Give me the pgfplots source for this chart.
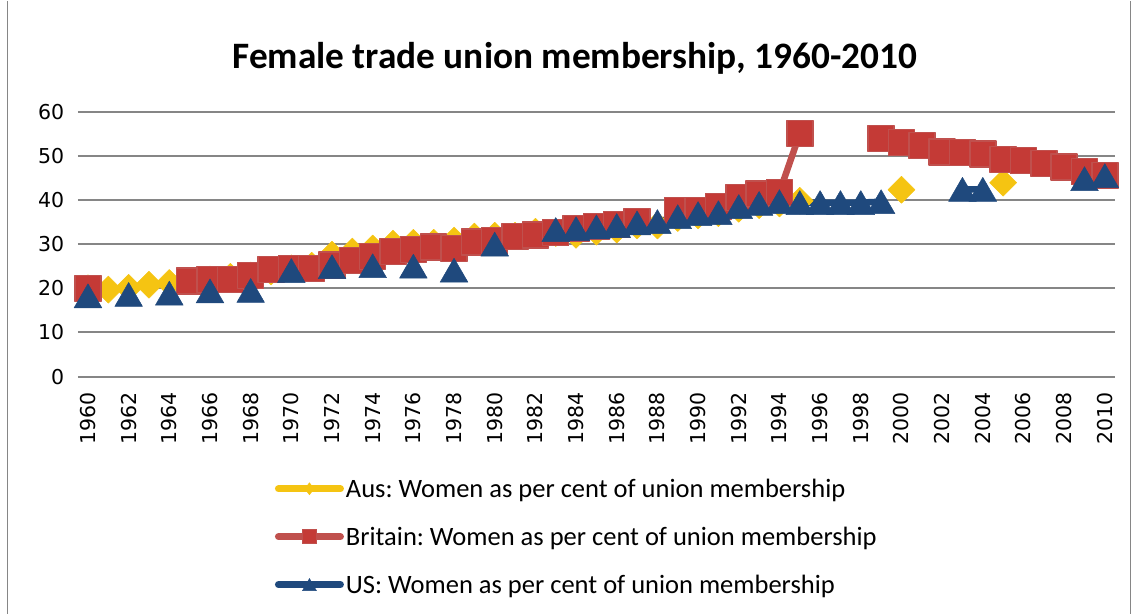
\documentclass[border=0pt]{standalone}
\usepackage{fontspec}
\setmainfont{Carlito}
\newfontfamily\tickfont{DejaVu Sans}
\usepackage{pgfplots}
\pgfplotsset{compat=1.18}
\usepackage{pgfplotstable}
\frenchspacing

\definecolor{ausY}{RGB}{245,196,18}
\definecolor{brR}{RGB}{192,80,77}
\definecolor{brF}{RGB}{196,58,54}
\definecolor{usB}{RGB}{31,73,125}
\definecolor{gridG}{RGB}{134,134,134}

\pgfplotstableread{
year val
1960 20.0
1961 19.7
1962 20.1
1963 20.8
1964 21.2
1965 21.7
1966 22.0
1967 22.6
1968 22.9
1969 23.8
1970 24.5
1971 25.1
1972 27.6
1973 28.3
1974 29.0
1975 30.1
1976 30.3
1977 30.3
1978 30.8
1979 31.7
1980 31.9
1981 31.9
1982 32.8
1983 32.5
1984 32.1
1985 32.8
1986 33.3
1987 34.2
1988 34.2
1989 35.9
1990 36.5
1991 37.0
1992 38.0
1993 38.8
1994 39.2
1995 39.8
1996 nan
2000 42.3
2001 nan
2005 43.9
}\ausdata

\pgfplotstableread{
year val
1960 19.9
1961 nan
1965 21.7
1966 22.0
1967 22.0
1968 22.9
1969 24.3
1970 24.5
1971 24.5
1972 25.3
1973 26.3
1974 27.2
1975 28.3
1976 28.8
1977 29.4
1978 29.0
1979 30.5
1980 30.8
1981 31.7
1982 32.1
1983 32.6
1984 33.5
1985 34.0
1986 34.4
1987 35.1
1988 nan
1989 37.6
1990 37.6
1991 38.5
1992 40.5
1993 41.4
1994 41.7
1995 55.0
1996 nan
1999 53.9
2000 53.0
2001 52.3
2002 50.9
2003 50.7
2004 50.4
2005 49.1
2006 48.9
2007 48.2
2008 47.5
2009 46.4
2010 45.5
}\brdata

\pgfplotstableread{
year val
1960 18.3
1961 nan
1962 18.6
1963 nan
1964 18.9
1965 nan
1966 19.4
1967 nan
1968 19.5
1969 nan
1970 24.0
1971 nan
1972 24.9
1973 nan
1974 25.1
1975 nan
1976 25.0
1977 nan
1978 24.1
1979 nan
1980 30.0
1981 nan
1983 33.3
1984 33.5
1985 33.9
1986 34.2
1987 34.8
1988 35.1
1989 36.2
1990 36.9
1991 37.1
1992 38.5
1993 39.2
1994 39.6
1995 39.4
1996 39.4
1997 39.4
1998 39.4
1999 39.6
2000 nan
2003 42.4
2004 42.4
2005 nan
2009 44.8
2010 45.5
}\usdata

\begin{document}
\begin{tikzpicture}[x=1pt,y=1pt]
\path (0,0) rectangle (1133,613);
\draw[gridG, line width=1.2pt] (7.5,0) -- (7.5,613);
\draw[gridG, line width=1.2pt] (1130.5,0) -- (1130.5,613);
\node[font=\bfseries\fontsize{37.3}{42}\selectfont] at (575,555) {Female trade union membership, 1960-2010};
\begin{axis}[
  at={(77.8pt,237pt)}, anchor=south west,
  scale only axis, width=1037.2pt, height=265pt,
  xmin=1959.5, xmax=2010.5, ymin=0, ymax=60,
  axis line style={draw=none}, major tick length=0pt,
  ytick={0,10,...,60}, xtick={1960,1962,...,2010},
  ymajorgrids, grid style={gridG, line width=2pt},
  xticklabel style={rotate=90, anchor=east, xshift=-12pt, font=\tickfont\fontsize{20.5}{21}\selectfont},
  yticklabel style={xshift=-10pt, font=\tickfont\fontsize{20.5}{21}\selectfont},
  /pgf/number format/1000 sep={}, /pgf/number format/assume math mode=true,
  clip=false, unbounded coords=jump,
  legend style={at={(0.187,-0.37)}, anchor=north west, draw=none, fill=none,
    font=\fontsize{26.5}{29}\selectfont, row sep=24pt},
  legend cell align=left,
  legend image code/.code={\draw[mark repeat=2, mark phase=2, #1] plot coordinates {(0pt,0pt) (31pt,0pt) (62pt,0pt)};},
]
\addplot[forget plot, ausY, line width=6.5pt, line cap=round, line join=round,
  mark=diamond*, mark size=13.5, mark options={solid, line width=0.5pt, xscale=1.333, fill=ausY, draw=ausY}]
  table[x=year, y=val] {\ausdata};
\addplot[forget plot, brR, line width=6.5pt, line cap=round, line join=round,
  mark=square*, mark size=13, mark options={solid, line width=1.5pt, fill=brF, draw=brR}]
  table[x=year, y=val] {\brdata};
\addplot[forget plot, usB, line width=6.5pt, line cap=round, line join=round,
  mark=triangle*, mark size=16, mark options={solid, line width=0.5pt, yshift=-4pt, fill=usB, draw=usB}]
  table[x=year, y=val] {\usdata};
\addlegendimage{ausY, line width=7pt, line cap=round, mark=diamond*, mark size=6, mark options={solid, line width=0.5pt, fill=ausY}}
\addlegendentry{Aus: Women as per cent of union membership}
\addlegendimage{brR, line width=7pt, line cap=round, mark=square*, mark size=7, mark options={solid, line width=1pt, fill=brF}}
\addlegendentry{Britain: Women as per cent of union membership}
\addlegendimage{usB, line width=7pt, line cap=round, mark=triangle*, mark size=8, mark options={solid, line width=0.5pt, yshift=-2pt, fill=usB}}
\addlegendentry{US: Women as per cent of union membership}
\end{axis}
\end{tikzpicture}
\end{document}
